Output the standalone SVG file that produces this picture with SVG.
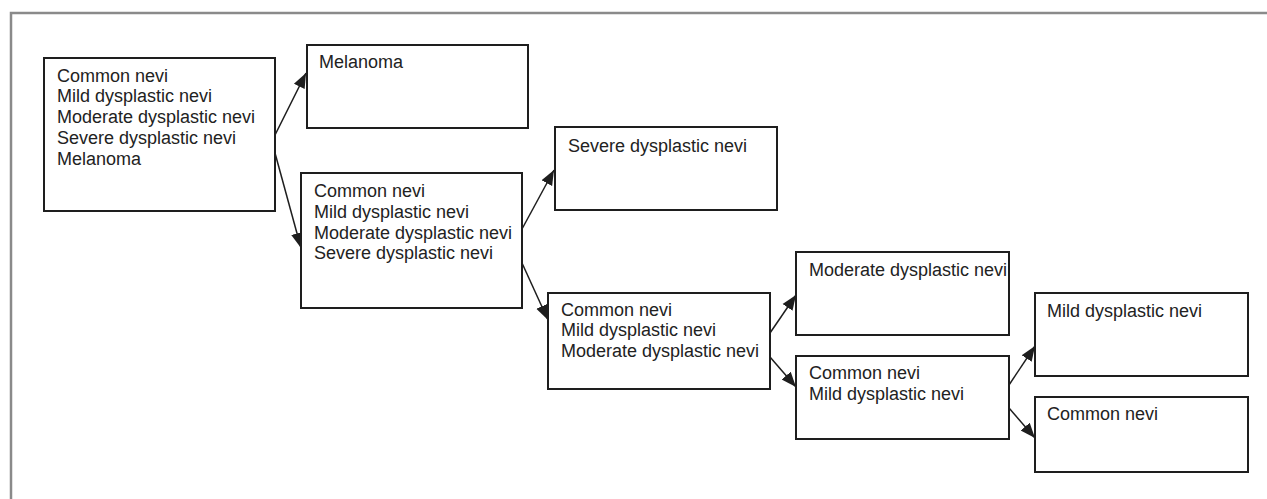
<svg xmlns="http://www.w3.org/2000/svg" width="1267" height="499" viewBox="0 0 1267 499">
<style>
.box{fill:#fff;stroke:#1e1e1e;stroke-width:2}
.t{font-family:"Liberation Sans",Arial,sans-serif;font-size:18px;fill:#222}
.c{stroke:#1e1e1e;stroke-width:1.5;fill:none}
</style>
<defs>
<marker id="ah" markerUnits="userSpaceOnUse" markerWidth="16" markerHeight="14" viewBox="0 0 16 14" refX="15" refY="7" orient="auto">
<path d="M0,1 L15,7 L0,13 Z" fill="#1e1e1e"/>
</marker>
</defs>
<rect width="1267" height="499" fill="#fff"/>
<path d="M11,499 V13 H1267" fill="none" stroke="#8a8a8a" stroke-width="2.5"/>
<g id="connectors">
<line class="c" x1="275" y1="135" x2="306" y2="73" marker-end="url(#ah)"/>
<line class="c" x1="275" y1="153" x2="301" y2="248" marker-end="url(#ah)"/>
<line class="c" x1="522" y1="229" x2="554" y2="170" marker-end="url(#ah)"/>
<line class="c" x1="522" y1="263" x2="548" y2="320" marker-end="url(#ah)"/>
<line class="c" x1="770" y1="333" x2="796" y2="295" marker-end="url(#ah)"/>
<line class="c" x1="770" y1="357" x2="796" y2="387" marker-end="url(#ah)"/>
<line class="c" x1="1009" y1="385" x2="1035" y2="346" marker-end="url(#ah)"/>
<line class="c" x1="1009" y1="408" x2="1035" y2="438" marker-end="url(#ah)"/>
</g>
<g id="n1">
<rect class="box" x="44" y="58" width="231" height="153"/>
<text class="t" x="57" y="81.7">Common nevi</text>
<text class="t" x="57" y="102.4">Mild dysplastic nevi</text>
<text class="t" x="57" y="123.1">Moderate dysplastic nevi</text>
<text class="t" x="57" y="143.8">Severe dysplastic nevi</text>
<text class="t" x="57" y="164.5">Melanoma</text>
</g>
<g id="n2">
<rect class="box" x="307" y="45" width="221" height="83"/>
<text class="t" x="319" y="68.3">Melanoma</text>
</g>
<g id="n3">
<rect class="box" x="301" y="173" width="221" height="135"/>
<text class="t" x="314" y="197.3">Common nevi</text>
<text class="t" x="314" y="218">Mild dysplastic nevi</text>
<text class="t" x="314" y="238.7">Moderate dysplastic nevi</text>
<text class="t" x="314" y="259.4">Severe dysplastic nevi</text>
</g>
<g id="n4">
<rect class="box" x="555" y="127" width="222" height="83"/>
<text class="t" x="568" y="151.7">Severe dysplastic nevi</text>
</g>
<g id="n5">
<rect class="box" x="548" y="293" width="222" height="96"/>
<text class="t" x="561" y="315.7">Common nevi</text>
<text class="t" x="561" y="336.4">Mild dysplastic nevi</text>
<text class="t" x="561" y="357.1">Moderate dysplastic nevi</text>
</g>
<g id="n6">
<rect class="box" x="796" y="252" width="213" height="83"/>
<text class="t" x="809" y="275.7">Moderate dysplastic nevi</text>
</g>
<g id="n7">
<rect class="box" x="796" y="356" width="213" height="83"/>
<text class="t" x="809" y="379">Common nevi</text>
<text class="t" x="809" y="400">Mild dysplastic nevi</text>
</g>
<g id="n8">
<rect class="box" x="1035" y="293" width="213" height="83"/>
<text class="t" x="1047" y="316.7">Mild dysplastic nevi</text>
</g>
<g id="n9">
<rect class="box" x="1035" y="397" width="213" height="75"/>
<text class="t" x="1047" y="420">Common nevi</text>
</g>
</svg>
